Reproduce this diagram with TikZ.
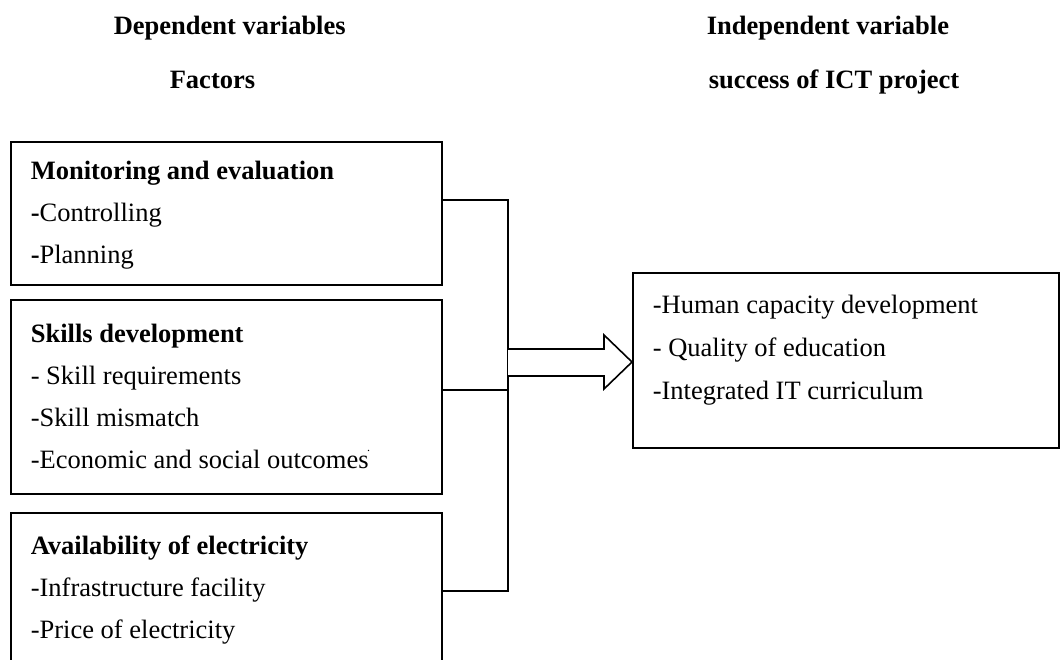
\documentclass[tikz,border=0pt]{standalone}
\usepackage{fontspec}
\setmainfont{Liberation Serif}
\begin{document}
\begin{tikzpicture}[x=1pt,y=-1pt,line width=1.6pt,line join=miter,
  txt/.style={anchor=base west,inner sep=0pt,font=\fontsize{26.5}{30}\selectfont},
  hd/.style={anchor=base west,inner sep=0pt,font=\fontsize{26.5}{30}\selectfont\bfseries},
  box/.style={draw,anchor=north west,inner sep=0pt,line width=1.6pt}]
\useasboundingbox (0,0) rectangle (1060,660);
% headings
\node[hd] (h1) at (113,35) {Dependent variables};
\node[hd] (h2) at (169,89) {Factors};
\node[hd] (h3) at (706,35) {Independent variable};
\node[hd] (h4) at (708,89) {success of ICT project};
% boxes
\node[box,minimum width=431pt,minimum height=143pt] (b1) at (10,141) {};
\node[box,minimum width=431pt,minimum height=194pt] (b2) at (10,299) {};
\begin{scope}
\clip (0,0) rectangle (1060,660);
\node[box,minimum width=431pt,minimum height=170pt] (b3) at (10,512) {};
\end{scope}
\node[box,minimum width=426pt,minimum height=175pt] (r) at (632,272) {};
% box texts
\node[hd] (t11) at (30,180) {Monitoring and evaluation};
\node[txt] (t12) at (30,222) {\textbf{-}Controlling};
\node[txt] (t13) at (30,264) {\textbf{-}Planning};
\node[hd] (t21) at (30,342) {Skills development};
\node[txt] (t22) at (30,384) {- Skill requirements};
\node[txt] (t23) at (30,426) {-Skill mismatch};
\node[txt] (t24) at (30,468) {-Economic and social outcomes};
\node[anchor=base west,inner sep=0pt,font=\fontsize{12}{12}\selectfont] (t24d) at (t24.base east) [yshift=17pt,xshift=-3pt] {.};
\node[hd] (t31) at (30,554) {Availability of electricity};
\node[txt] (t32) at (30,596) {-Infrastructure facility};
\node[txt] (t33) at (30,638) {-Price of electricity};
\node[txt] (r1) at (652,313) {-Human capacity development};
\node[txt] (r2) at (652,356) {- Quality of education};
\node[txt] (r3) at (652,399) {-Integrated IT curriculum};
% connectors
\coordinate (jt) at (508,200);
\coordinate (jm) at (508,390);
\coordinate (jb) at (508,591);
\draw (b1.east |- jt) -- (jt) -- (jb) -- (b3.east |- jb);
\draw (b2.east |- jm) -- (jm);
% block arrow
\coordinate (as) at (508,362);
\draw[fill=white] (as |- 0,349) -- (604,349) -- (604,335) -- (r.west |- as)
  -- (604,389) -- (604,376) -- (as |- 0,376);
\end{tikzpicture}
\end{document}
